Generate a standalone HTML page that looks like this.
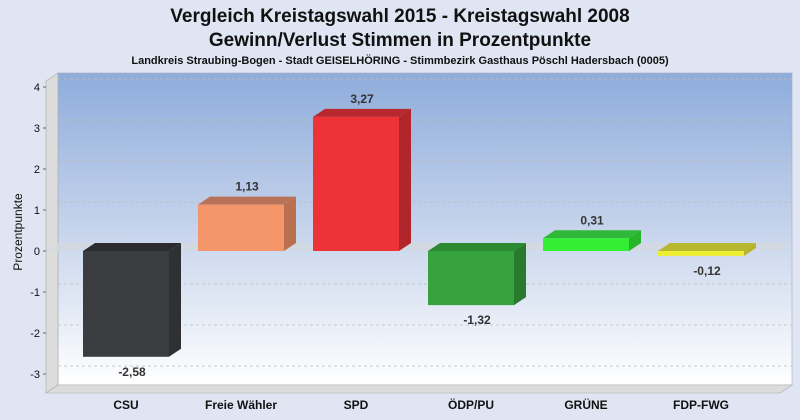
<!DOCTYPE html>
<html><head><meta charset="utf-8"><style>
body{margin:0;background:#dfe5f3;}
svg{display:block;font-family:"Liberation Sans",sans-serif;}
</style></head><body>
<svg id="chart" width="800" height="420" viewBox="0 0 800 420">
<defs>
<linearGradient id="bg" x1="0" y1="0" x2="0" y2="1">
<stop offset="0" stop-color="#8eacdb"/><stop offset="0.5" stop-color="#c6d4ec"/><stop offset="1" stop-color="#ffffff"/>
</linearGradient>
</defs>
<rect width="800" height="420" fill="#dfe5f3"/>
<text x="400" y="22" text-anchor="middle" font-size="19" font-weight="bold" fill="#111">Vergleich Kreistagswahl 2015 - Kreistagswahl 2008</text>
<text x="400" y="46" text-anchor="middle" font-size="19" font-weight="bold" fill="#111">Gewinn/Verlust Stimmen in Prozentpunkte</text>
<text x="400" y="64" text-anchor="middle" font-size="11" font-weight="bold" fill="#111">Landkreis Straubing-Bogen - Stadt GEISELHÖRING - Stimmbezirk Gasthaus Pöschl Hadersbach (0005)</text>
<rect x="58" y="73" width="734" height="312" fill="url(#bg)" stroke="#aab" stroke-width="0.6"/>
<polygon points="46,81 58,73 58,385 46,393" fill="#dcdcdc" stroke="#aaa" stroke-width="0.6"/>
<polygon points="46,393 58,385 792,385 780,393" fill="#dcdcdc" stroke="#aaa" stroke-width="0.6"/>
<g id="grid"></g>
<g id="bars"></g>
<text transform="translate(22,232) rotate(-90)" text-anchor="middle" font-size="12" fill="#111">Prozentpunkte</text>
</svg>
<script>
const categories=["CSU","Freie Wähler","SPD","ÖDP/PU","GRÜNE","FDP-FWG"];
const values=[-2.58,1.13,3.27,-1.32,0.31,-0.12];
const labels=["-2,58","1,13","3,27","-1,32","0,31","-0,12"];
const colors=["#3a3c40","#f4956a","#ee3338","#37a33c","#33ee33","#eeee33"];
const sides=["#2e3034","#b8704e","#b0262a","#2a7a2e","#28b428","#b4b42a"];
const tops=["#2a2c30","#b87258","#b8282c","#2e8a32","#30b838","#b8b830"];
const ticks=[4,3,2,1,0,-1,-2,-3];
const NS="http://www.w3.org/2000/svg";
const DX=12,DY=8;
function y(v){return 251-v*41;}
function x(i){return 126+i*115;}
function mk(tag,attrs,parent){const e=document.createElementNS(NS,tag);for(const k in attrs)e.setAttribute(k,attrs[k]);parent.appendChild(e);return e;}
const grid=document.getElementById('grid'),bars=document.getElementById('bars');
ticks.forEach(t=>{
 if(t!==0){const l=mk('line',{x1:58,x2:792,y1:y(t)-DY,y2:y(t)-DY,stroke:'#bbb','stroke-dasharray':'3,3','stroke-width':0.7},grid);
 
 }
 const tk=mk('line',{x1:43,x2:46,y1:y(t),y2:y(t),stroke:'#666'},grid);
 
 
 const tx=mk('text',{x:40,y:y(t)+4,'text-anchor':'end','font-size':11,fill:'#111'},grid);
 tx.textContent=String(t);
 
 
});
const zp=mk('polygon',{points:`46,${y(0)} 58,${y(0)-DY} 792,${y(0)-DY} 780,${y(0)}`,fill:'#d4d8de',opacity:0.8},grid);


categories.forEach((c,i)=>{
 const v=values[i],x0=x(i)-43,x1=x(i)+43,yt=Math.min(y(v),y(0)),yb=Math.max(y(v),y(0));
 const g=mk('g',{},bars);
 
 
 mk('polygon',{points:`${x1},${yt} ${x1+DX},${yt-DY} ${x1+DX},${yb-DY} ${x1},${yb}`,fill:sides[i]},g);
 mk('polygon',{points:`${x0},${yt} ${x0+DX},${yt-DY} ${x1+DX},${yt-DY} ${x1},${yt}`,fill:tops[i]},g);
 mk('rect',{x:x0,y:yt,width:86,height:Math.max(yb-yt,1),fill:colors[i]},g);
 const lt=mk('text',{x:x(i)+6,y:v>=0?y(v)-14:y(v)+19,'text-anchor':'middle','font-size':12,'font-weight':'bold',fill:'#333'},bars);
 lt.textContent=labels[i];
 
 
 const ct=mk('text',{x:x(i),y:409,'text-anchor':'middle','font-size':12,'font-weight':'bold',fill:'#111'},bars);
 ct.textContent=c;
 
 
});
</script>
</body></html>
